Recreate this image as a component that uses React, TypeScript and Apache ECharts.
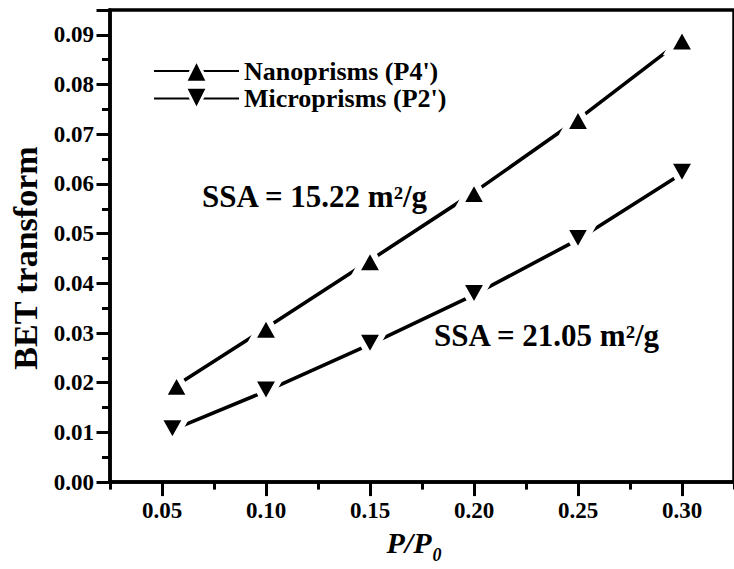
import React, { useEffect, useRef } from 'react';
import * as echarts from 'echarts';

// Axis ticks
const xMajorTicks = [0.05, 0.1, 0.15, 0.2, 0.25, 0.3];
const xMinorTicks = [0.025, 0.075, 0.125, 0.175, 0.225, 0.275, 0.325];

// BET transform data
const nanoX = [0.057, 0.1, 0.15, 0.2, 0.25, 0.3];
const nanoY = [0.0195, 0.031, 0.0446, 0.0583, 0.073, 0.089];
const microX = [0.055, 0.1, 0.15, 0.2, 0.25, 0.3];
const microY = [0.0105, 0.0183, 0.0277, 0.0377, 0.0488, 0.0621];

const seriesNames = ["Nanoprisms (P4')", "Microprisms (P2')"];
const annotations = ['SSA = 15.22 m²/g', 'SSA = 21.05 m²/g'];

const FONT = '"Liberation Serif", "Times New Roman", serif';
const UP = 'triangle';
const DOWN = 'path://M0,0 L18,0 L9,16 Z';

const pair = (xs: number[], ys: number[]) => xs.map((x, i) => [x, ys[i]]);

export default function App() {
  const ref = useRef<HTMLDivElement>(null);

  useEffect(() => {
    const chart = echarts.init(ref.current!, null, { renderer: 'svg' });
    // White outline on the markers leaves a small gap where the line meets them
    const lineCommon = {
      type: 'line',
      color: '#000',
      symbolSize: [28, 25],
      lineStyle: { color: '#000', width: 3.6 },
      itemStyle: { color: '#000', borderColor: '#fff', borderWidth: 6 },
      xAxisIndex: 0,
    };

    chart.setOption({
      animation: false,
      backgroundColor: '#fff',
      textStyle: { fontFamily: FONT, fontWeight: 'bold', color: '#000' },
      grid: {
        left: 108.5,
        top: 10,
        width: 632.5,
        height: 476,
        show: true,
        borderColor: '#000',
        borderWidth: 3.5,
      },
      legend: {
        orient: 'vertical',
        left: 153,
        top: 57.5,
        padding: 0,
        itemWidth: 85,
        itemHeight: 28,
        itemGap: 0.5,
        data: seriesNames,
        itemStyle: { borderColor: '#fff', borderWidth: 3 },
        textStyle: { fontFamily: FONT, fontWeight: 'bold', fontSize: 26, lineHeight: 27, color: '#000' },
      },
      xAxis: [
        {
          type: 'value',
          min: 0.025,
          max: 0.325,
          position: 'bottom',
          name: '{p|P/P}{s|0}',
          nameLocation: 'middle',
          nameGap: 41,
          nameTextStyle: {
            padding: [0, 16, 0, 0],
            rich: {
              p: { fontFamily: FONT, fontWeight: 'bold', fontStyle: 'italic', fontSize: 30, color: '#000', verticalAlign: 'top' },
              s: { fontFamily: FONT, fontWeight: 'bold', fontStyle: 'italic', fontSize: 18, color: '#000', verticalAlign: 'top', padding: [19, 0, 0, 1] },
            },
          },
          axisLine: { lineStyle: { color: '#000', width: 3.5 } },
          axisTick: { show: true, length: 14, customValues: xMajorTicks, lineStyle: { color: '#000', width: 3 } },
          axisLabel: {
            customValues: xMajorTicks,
            formatter: (v: number) => v.toFixed(2),
            margin: 17,
            fontFamily: FONT,
            fontWeight: 'bold',
            fontSize: 23,
            color: '#000',
          },
          splitLine: { show: false },
        },
        {
          type: 'value',
          min: 0.025,
          max: 0.325,
          position: 'bottom',
          axisLine: { show: false },
          axisTick: { show: true, length: 7.5, customValues: xMinorTicks, lineStyle: { color: '#000', width: 3 } },
          axisLabel: { show: false },
          splitLine: { show: false },
        },
      ],
      yAxis: {
        type: 'value',
        min: 0,
        max: 0.095,
        interval: 0.01,
        name: 'BET transform',
        nameLocation: 'middle',
        nameRotate: 90,
        nameGap: 68,
        nameTextStyle: { fontFamily: FONT, fontWeight: 'bold', fontSize: 34, color: '#000', padding: [0, 24, 0, 0] },
        axisLine: { lineStyle: { color: '#000', width: 3.5 } },
        axisTick: { show: true, length: 13.5, lineStyle: { color: '#000', width: 3 } },
        minorTick: { show: true, splitNumber: 2, length: 8, lineStyle: { color: '#000', width: 3 } },
        axisLabel: {
          formatter: (v: number) => v.toFixed(2),
          showMaxLabel: false,
          margin: 16,
          fontFamily: FONT,
          fontWeight: 'bold',
          fontSize: 23,
          color: '#000',
        },
        splitLine: { show: false },
      },
      graphic: [
        {
          type: 'text',
          x: 202,
          y: 196.5,
          style: { text: annotations[0], font: `bold 31px ${FONT}`, fill: '#000', verticalAlign: 'middle' },
        },
        {
          type: 'text',
          x: 434,
          y: 335,
          style: { text: annotations[1], font: `bold 31px ${FONT}`, fill: '#000', verticalAlign: 'middle' },
        },
      ],
      series: [
        { ...lineCommon, name: seriesNames[0], data: pair(nanoX, nanoY), symbol: UP },
        { ...lineCommon, name: seriesNames[1], data: pair(microX, microY), symbol: DOWN },
      ],
    });
    return () => chart.dispose();
  }, []);

  return (
    <div
      ref={ref}
      style={{ position: 'fixed', left: 0, top: 0, width: 734, height: 569, background: '#fff' }}
    />
  );
}
